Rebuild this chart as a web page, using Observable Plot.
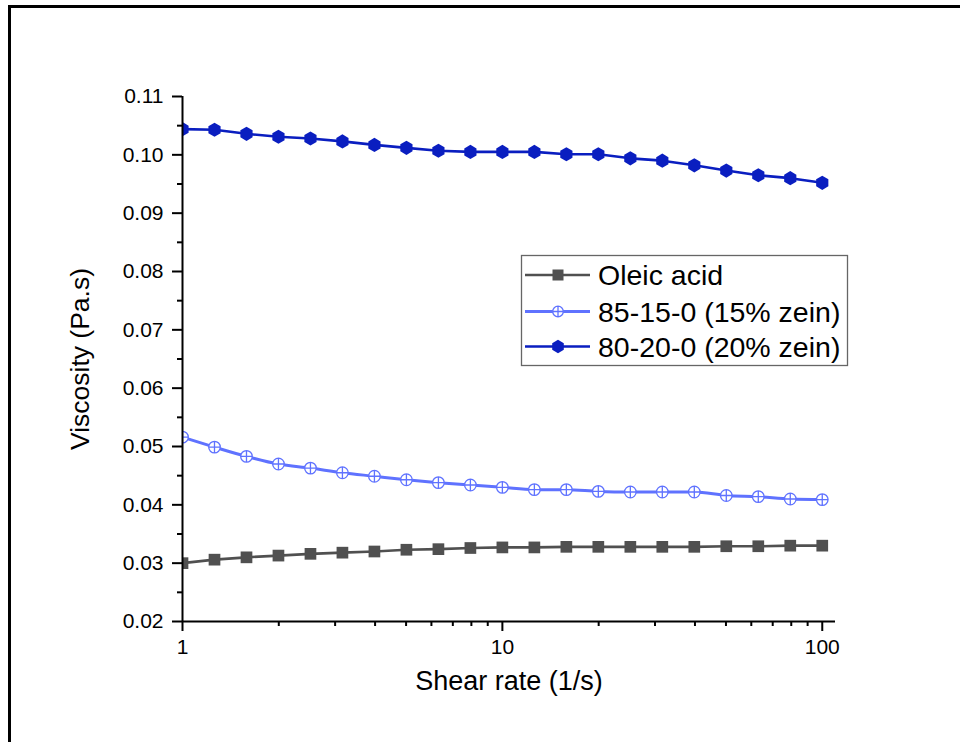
<!DOCTYPE html>
<html><head><meta charset="utf-8">
<script src="https://cdn.jsdelivr.net/npm/d3@7"></script>
<script src="https://cdn.jsdelivr.net/npm/@observablehq/plot@0.6"></script>
<style>
body{margin:0;background:#fff;}
#wrap{position:relative;width:960px;height:742px;overflow:hidden;background:#fff;}
#wrap svg{position:absolute;left:0;top:0;}
#frame{position:absolute;left:8px;top:5px;width:1000px;height:800px;border-top:3px solid #000;border-left:3px solid #000;pointer-events:none;}
</style></head>
<body><div id="wrap"></div>
<script>
// ---- data ----
const shearRate = [1, 1.259, 1.585, 1.995, 2.512, 3.162, 3.981, 5.012, 6.310, 7.943, 10, 12.59, 15.85, 19.95, 25.12, 31.62, 39.81, 50.12, 63.10, 79.43, 100];
const oleicAcid = [0.0300, 0.0306, 0.0310, 0.0313, 0.0316, 0.0318, 0.0320, 0.0323, 0.0324, 0.0326, 0.0327, 0.0327, 0.0328, 0.0328, 0.0328, 0.0328, 0.0328, 0.0329, 0.0329, 0.0330, 0.0330];
const zein15 = [0.0516, 0.0499, 0.0483, 0.0470, 0.0463, 0.0455, 0.0449, 0.0443, 0.0438, 0.0434, 0.0430, 0.0426, 0.0426, 0.0423, 0.0422, 0.0422, 0.0422, 0.0416, 0.0414, 0.0410, 0.0409];
const zein20 = [0.1044, 0.1043, 0.1036, 0.1031, 0.1028, 0.1023, 0.1017, 0.1012, 0.1007, 0.1005, 0.1005, 0.1005, 0.1001, 0.1001, 0.0994, 0.0990, 0.0982, 0.0973, 0.0965, 0.0960, 0.0952];
const seriesNames = ["Oleic acid", "85-15-0 (15% zein)", "80-20-0 (20% zein)"];
const xTicks = [1, 10, 100];
const xMinorTicks = [2, 3, 4, 5, 6, 7, 8, 9, 20, 30, 40, 50, 60, 70, 80, 90];
const yTicks = [0.02, 0.03, 0.04, 0.05, 0.06, 0.07, 0.08, 0.09, 0.10, 0.11];
const yMinorTicks = [0.025, 0.035, 0.045, 0.055, 0.065, 0.075, 0.085, 0.095, 0.105];
const xDomain = [1, 110];
const yDomain = [0.02, 0.11];
const xTitle = "Shear rate (1/s)";
const yTitle = "Viscosity (Pa.s)";

const colors = ["#505050", "#5f72ff", "#0a1ec0"];
const FONT = "Liberation Sans, Arial, Helvetica, sans-serif";

const rows = (vals) => shearRate.map((x, i) => ({x, y: vals[i]}));
const dOleic = rows(oleicAcid), d15 = rows(zein15), d20 = rows(zein20);

const circlePlus = {
  draw(ctx, size) {
    const r = Math.sqrt(size / Math.PI);
    ctx.moveTo(r, 0); ctx.arc(0, 0, r, 0, 2 * Math.PI);
    ctx.moveTo(-r, 0); ctx.lineTo(r, 0);
    ctx.moveTo(0, -r); ctx.lineTo(0, r);
  }
};

const chart = Plot.plot({
  width: 960, height: 742,
  marginLeft: 182, marginRight: 125, marginTop: 96, marginBottom: 121,
  style: {fontFamily: FONT, background: "transparent", color: "#000"},
  x: {type: "log", domain: xDomain, axis: null},
  y: {domain: yDomain, axis: null},
  marks: [
    Plot.line(dOleic, {x: "x", y: "y", stroke: colors[0], strokeWidth: 2.6, clip: true}),
    Plot.line(d15, {x: "x", y: "y", stroke: colors[1], strokeWidth: 3, curve: "monotone-x", clip: true}),
    Plot.line(d20, {x: "x", y: "y", stroke: colors[2], strokeWidth: 2.6, clip: true}),
    Plot.dot(dOleic, {x: "x", y: "y", symbol: "square", r: 6.6, fill: colors[0], stroke: "none", clip: true}),
    Plot.dot(d15, {x: "x", y: "y", symbol: circlePlus, r: 5.8, fill: "white", stroke: colors[1], strokeWidth: 1.3, clip: true}),
    Plot.dot(d20, {x: "x", y: "y", symbol: "hexagon", r: 6.1, fill: colors[2], stroke: "none", clip: true}),
    // axes
    Plot.axisX({ticks: xTicks, tickSize: 10, tickPadding: 8, tickFormat: d => String(d), fontSize: 21, strokeWidth: 2, label: null}),
    Plot.axisX({ticks: xMinorTicks, tickSize: 5, tickFormat: () => "", strokeWidth: 2, label: null}),
    Plot.axisY({ticks: yTicks, tickSize: 10, tickPadding: 9, tickFormat: d3.format(".2f"), fontSize: 21, strokeWidth: 2, label: null}),
    Plot.axisY({ticks: yMinorTicks, tickSize: 5, tickFormat: () => "", strokeWidth: 2, label: null}),
    Plot.ruleY([yDomain[0]], {x1: xDomain[0], x2: xDomain[1], stroke: "#000", strokeWidth: 2}),
    Plot.ruleX([xDomain[0]], {y1: yDomain[0], y2: yDomain[1], stroke: "#000", strokeWidth: 2}),
    Plot.text([xTitle], {frameAnchor: "bottom", textAnchor: "middle", dy: 68, fontSize: 27, fill: "#000"}),
    Plot.text([yTitle], {frameAnchor: "left", textAnchor: "middle", dx: -102, rotate: -90, fontSize: 26.5, fill: "#000"})
  ]
});

// ---- legend (drawn with d3 onto the same svg) ----
const svg = d3.select(chart);
const lg = svg.append("g").attr("font-family", FONT).attr("text-anchor", "start");
lg.append("rect").attr("x", 521.5).attr("y", 255.5).attr("width", 326).attr("height", 110)
  .attr("fill", "white").attr("stroke", "#666").attr("stroke-width", 1.3);
const rowY = [275, 311.5, 346.5];
const hexPath = (r) => {
  const ry = r * 2 / Math.sqrt(3), hy = ry / 2;
  return `M0,${ry}L${r},${hy}L${r},${-hy}L0,${-ry}L${-r},${-hy}L${-r},${hy}Z`;
};
seriesNames.forEach((name, i) => {
  const g = lg.append("g").attr("transform", `translate(0,${rowY[i]})`);
  g.append("line").attr("x1", 525).attr("x2", 590).attr("y1", 0).attr("y2", 0)
    .attr("stroke", colors[i]).attr("stroke-width", i === 1 ? 3 : 2.6);
  const m = g.append("g").attr("transform", "translate(558,0)");
  if (i === 0) {
    m.append("rect").attr("x", -5.5).attr("y", -5.5).attr("width", 11).attr("height", 11).attr("fill", colors[0]);
  } else if (i === 1) {
    m.append("path").attr("d", d3.symbol(circlePlus, Math.PI * 5.3 * 5.3)()).attr("fill", "white")
      .attr("stroke", colors[1]).attr("stroke-width", 1.3);
  } else {
    m.append("path").attr("d", hexPath(5.8)).attr("fill", colors[2]);
  }
  g.append("text").attr("x", 598).attr("y", 0).attr("dy", "0.36em").attr("font-size", 28.5)
    .attr("text-anchor", "start").attr("fill", "#000").text(name);
});

const wrap = document.getElementById("wrap");
wrap.appendChild(chart);
const frame = document.createElement("div");
frame.id = "frame";
wrap.appendChild(frame);
</script>
</body></html>
